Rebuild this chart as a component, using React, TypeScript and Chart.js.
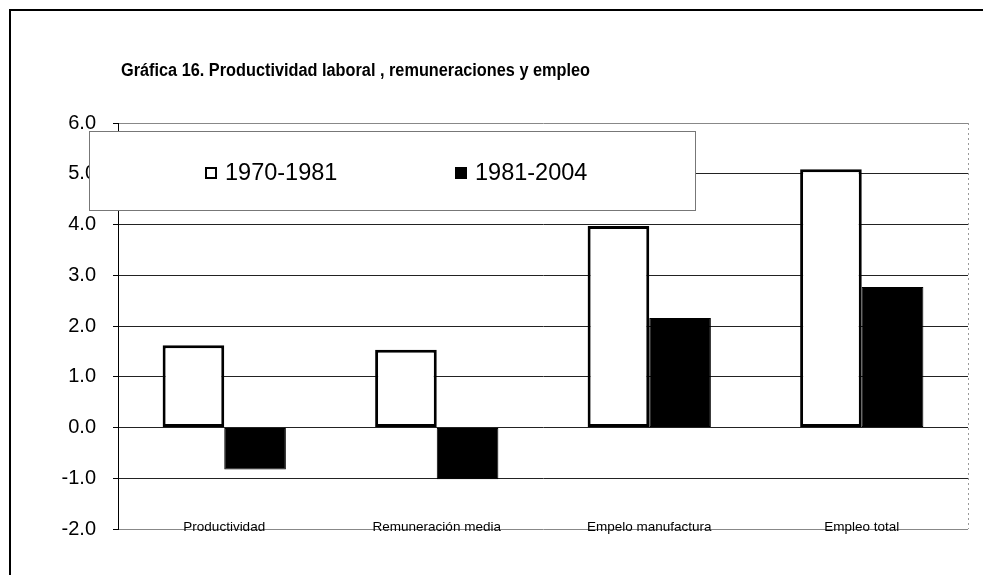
import React, { useEffect, useRef } from "react";
import { Chart, registerables } from "chart.js";

Chart.register(...registerables);

const title = "Gráfica 16. Productividad laboral , remuneraciones y empleo";
const categories = ["Productividad", "Remuneración media", "Empelo manufactura", "Empleo total"];
const seriesLabels = ["1970-1981", "1981-2004"];
const values1970 = [1.62, 1.53, 3.97, 5.09];
const values1981 = [-0.83, -1.02, 2.16, 2.77];
const yMin = -2;
const yMax = 6;
const yStep = 1;

const FONT = "Arial, 'Liberation Sans', sans-serif";

const decorPlugin = {
  id: "decor",
  afterDraw(chart: any) {
    const ctx = chart.ctx as CanvasRenderingContext2D;
    const area = chart.chartArea;
    const xScale = chart.scales.x;
    ctx.save();

    // outer frame
    ctx.strokeStyle = "#000";
    ctx.lineWidth = 2;
    ctx.beginPath();
    ctx.moveTo(10, 575);
    ctx.lineTo(10, 10);
    ctx.lineTo(983, 10);
    ctx.stroke();

    // right dotted border of plot
    ctx.strokeStyle = "#999";
    ctx.lineWidth = 1;
    ctx.setLineDash([2, 3]);
    ctx.beginPath();
    ctx.moveTo(area.right + 0.5, area.top);
    ctx.lineTo(area.right + 0.5, area.bottom);
    ctx.stroke();
    ctx.setLineDash([]);

    // title (slightly condensed to match the original's width)
    ctx.fillStyle = "#000";
    ctx.font = `bold 18px ${FONT}`;
    ctx.textAlign = "left";
    ctx.textBaseline = "middle";
    const tw = ctx.measureText(title).width;
    const targetW = 469;
    ctx.save();
    ctx.translate(121, 71);
    ctx.scale(targetW / tw, 1);
    ctx.fillText(title, 0, 0);
    ctx.restore();

    // category labels on the bottom line
    ctx.font = `13.5px ${FONT}`;
    ctx.textAlign = "center";
    ctx.textBaseline = "middle";
    ctx.fillStyle = "#000";
    categories.forEach((c, i) => {
      const x = xScale.getPixelForValue(i);
      ctx.fillText(c, x, area.bottom - 2);
    });

    // legend box
    const lx = 89, ly = 131, lw = 606, lh = 79;
    ctx.fillStyle = "#fff";
    ctx.fillRect(lx, ly, lw, lh);
    ctx.strokeStyle = "#777";
    ctx.lineWidth = 1;
    ctx.strokeRect(lx + 0.5, ly + 0.5, lw, lh);

    const cy = 173;
    const items = [
      { x: 205, fill: "#fff", label: seriesLabels[0] },
      { x: 455, fill: "#000", label: seriesLabels[1] },
    ];
    items.forEach((it) => {
      ctx.fillStyle = it.fill;
      ctx.fillRect(it.x, cy - 6, 12, 12);
      ctx.strokeStyle = "#000";
      ctx.lineWidth = 2;
      ctx.strokeRect(it.x + 1, cy - 5, 10, 10);
      ctx.fillStyle = "#000";
      ctx.font = `23.5px ${FONT}`;
      ctx.textAlign = "left";
      ctx.textBaseline = "middle";
      ctx.fillText(it.label, it.x + 20, cy + 1);
    });

    ctx.restore();
  },
};

export default function App() {
  const canvasRef = useRef<HTMLCanvasElement | null>(null);

  useEffect(() => {
    if (!canvasRef.current) return;
    const chart = new Chart(canvasRef.current, {
      type: "bar",
      data: {
        labels: categories,
        datasets: [
          {
            label: seriesLabels[0],
            data: values1970,
            backgroundColor: "#fff",
            borderColor: "#000",
            borderWidth: 3,
            borderSkipped: false,
          },
          {
            label: seriesLabels[1],
            data: values1981,
            backgroundColor: "#000",
            borderColor: "#000",
            borderWidth: 1,
            borderSkipped: false,
          },
        ],
      },
      options: {
        responsive: false,
        animation: false,
        events: [],
        layout: { padding: { left: 0, top: 123, right: 15, bottom: 46 } },
        plugins: {
          legend: { display: false },
          title: { display: false },
          tooltip: { enabled: false },
        },
        datasets: {
          bar: { categoryPercentage: 0.58, barPercentage: 1 },
        },
        scales: {
          x: {
            ticks: { display: false },
            grid: { display: false, drawTicks: false },
            border: { display: false },
            afterFit: (s: any) => {
              s.height = 0;
            },
          },
          y: {
            min: yMin,
            max: yMax,
            ticks: {
              stepSize: yStep,
              color: "#000",
              font: { family: FONT, size: 20 },
              padding: 17,
              callback: (v: any) => Number(v).toFixed(1),
            },
            grid: {
              color: (c: any) => (c.tick && (c.tick.value === yMin || c.tick.value === yMax) ? "#888" : "#222"),
              lineWidth: 1,
              drawTicks: true,
              tickLength: 5,
              tickColor: "#000",
            },
            border: { display: true, color: "#000", width: 1 },
            afterFit: (s: any) => {
              s.width = 118;
            },
          },
        },
      },
      plugins: [decorPlugin],
    });
    return () => chart.destroy();
  }, []);

  return (
    <div style={{ position: "absolute", left: 0, top: 0, width: 983, height: 575, background: "#fff" }}>
      <canvas ref={canvasRef} width={983} height={575} style={{ width: 983, height: 575 }} />
    </div>
  );
}
